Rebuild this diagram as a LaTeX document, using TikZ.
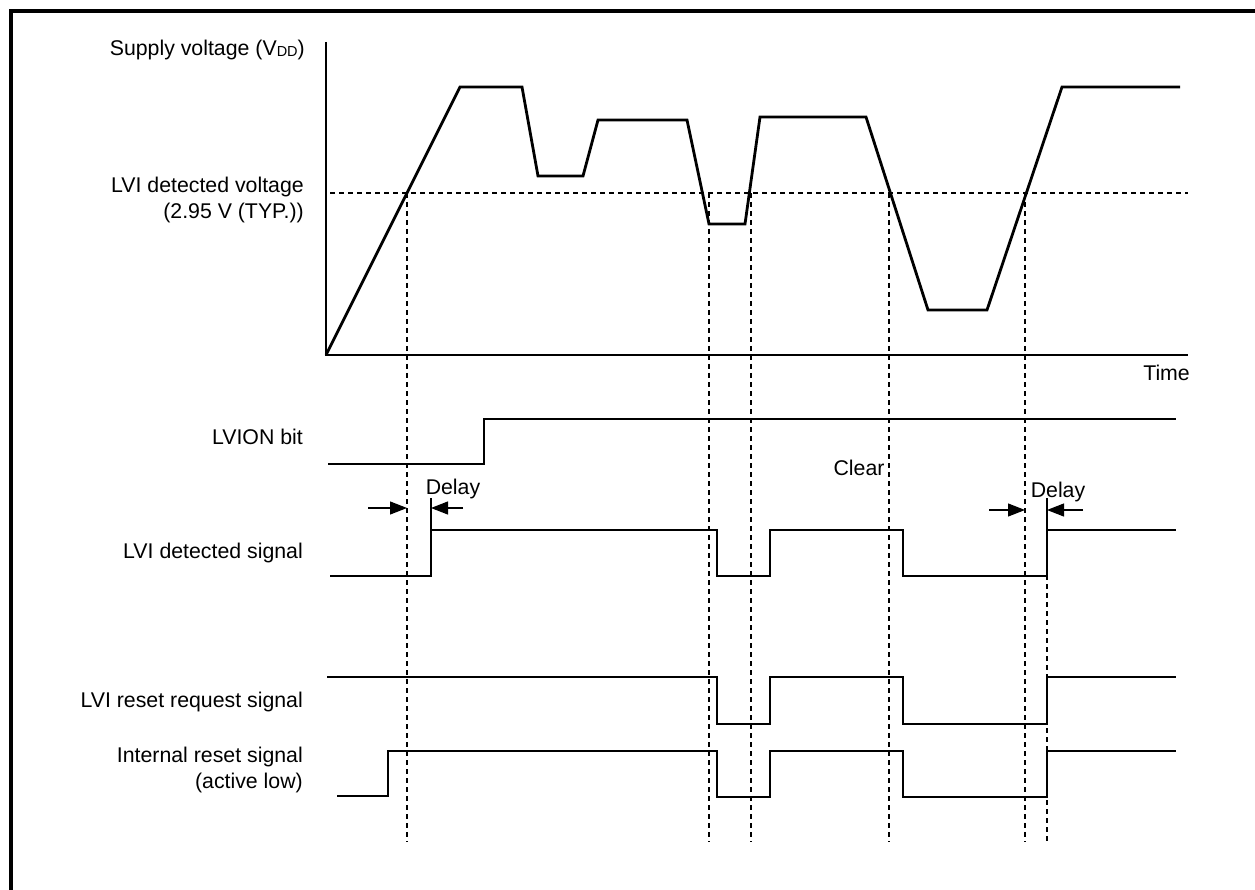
\documentclass[tikz,border=0pt]{standalone}
\usepackage{fontspec}
\setmainfont{Liberation Sans}
\usetikzlibrary{arrows.meta}
\begin{document}
\begin{tikzpicture}[x=1pt,y=-1pt,
  wave/.style={line width=2.8pt,line join=miter},
  axis/.style={line width=2.4pt},
  guide/.style={line width=1.1pt,dash pattern=on 5pt off 4pt},
  thin/.style={line width=1.1pt},
  lbl/.style={font=\fontsize{21.3}{25.5}\selectfont,anchor=east,inner sep=0pt,align=right},
  txt/.style={font=\fontsize{21.3}{25.5}\selectfont,inner sep=0pt},
  delayarrow/.style={line width=1.1pt,-{Triangle[length=17pt,width=13pt]}}]
\useasboundingbox (0,0) rectangle (1255,890);
% frame (top and left edges)
\draw[line width=4pt] (11,890) -- (11,11) -- (1255,11);

% axes
\coordinate (O) at (326,355);
\coordinate (Ytop) at (326,42);
\coordinate (Xend) at (1188,355);
\draw[axis] (Ytop) -- (O) -- (Xend);
\node[txt,anchor=north east] (time) at (1190,365) {Time};

% labels
\node[lbl] (vdd) at (305,50) {Supply voltage (V{\fontsize{14.5}{14.5}\selectfont\raisebox{-1pt}{DD}})};
\node[lbl] (lvidv) at (304,200) {LVI detected voltage\\(2.95 V (TYP.))};
\node[lbl] (lvion) at (303,437) {LVION bit};
\node[lbl] (lvids) at (303,553) {LVI detected signal};
\node[lbl] (lvirr) at (303,702) {LVI reset request signal};
\node[lbl] (irs) at (303,770) {Internal reset signal\\(active low)};
\node[txt] (clear) at (859,468) {Clear};

% threshold
\coordinate (T0) at (330,193);
\coordinate (T1) at (1188,193);
\draw[guide] (T0) -- (T1);

% supply voltage waveform
\draw[wave] (O) -- (460,87) -- (522,87) -- (538,176) -- (583,176) -- (598,120) -- (687,120)
  -- (709,224) -- (745,224) -- (760,117) -- (866,117) -- (928,310) -- (987,310)
  -- (1062,87) -- (1180,87);

% vertical guides
\foreach \n/\x in {a/407,b/709,c/751,d/889,e/1025}{
  \coordinate (g\n t) at (\x,193);
  \coordinate (g\n b) at (\x,842);
  \draw[guide] (g\n t) -- (g\n b);
}
\coordinate (gft) at (1047,530);
\coordinate (gfb) at (1047,842);
\draw[guide] (gft) -- (gfb);

% LVION bit
\draw[wave] (328,464) -- (484,464) -- (484,419) -- (1176,419);

% LVI detected signal
\draw[wave] (330,576) -- (431,576) -- (431,530) -- (717,530) -- (717,576) -- (770,576)
  -- (770,530) -- (903,530) -- (903,576) -- (1047,576) -- (1047,530) -- (1176,530);

% delays
\coordinate (d1a) at (368,508); \coordinate (d1b) at (407,508);
\coordinate (d1c) at (463,508); \coordinate (d1d) at (431,508);
\coordinate (d1t) at (431,498); \coordinate (d1e) at (431,530);
\draw[delayarrow] (d1a) -- (d1b);
\draw[delayarrow] (d1c) -- (d1d);
\draw[thin] (d1t) -- (d1e);
\node[txt] (delay1) at (453,489) {Delay};

\coordinate (d2a) at (989,510); \coordinate (d2b) at (1025,510);
\coordinate (d2c) at (1083,510); \coordinate (d2d) at (1047,510);
\coordinate (d2t) at (1047,498); \coordinate (d2e) at (1047,530);
\draw[delayarrow] (d2a) -- (d2b);
\draw[delayarrow] (d2c) -- (d2d);
\draw[thin] (d2t) -- (d2e);
\node[txt] (delay2) at (1058,492) {Delay};

% LVI reset request signal
\draw[wave] (327,677) -- (717,677) -- (717,724) -- (770,724) -- (770,677) -- (903,677)
  -- (903,724) -- (1047,724) -- (1047,677) -- (1176,677);

% internal reset signal
\draw[wave] (337,796) -- (388,796) -- (388,751) -- (717,751) -- (717,797) -- (770,797)
  -- (770,751) -- (903,751) -- (903,797) -- (1047,797) -- (1047,751) -- (1176,751);
\end{tikzpicture}
\end{document}
